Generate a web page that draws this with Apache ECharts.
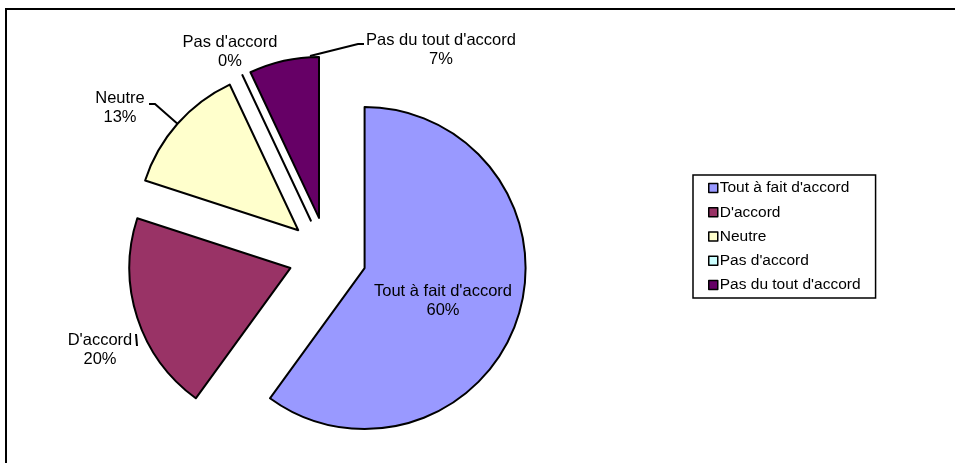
<!DOCTYPE html>
<html>
<head>
<meta charset="utf-8">
<script src="https://cdn.jsdelivr.net/npm/echarts@6/dist/echarts.min.js"></script>
<style>
  html, body { margin: 0; padding: 0; background: #fff; }
  #chart { width: 955px; height: 463px; }
</style>
</head>
<body>
<div id="chart"></div>
<script>
// answers and their share (%)
const categories = ["Tout à fait d'accord", "D'accord", 'Neutre', "Pas d'accord", "Pas du tout d'accord"]
const percents = [60, 20, 13, 0, 7]

const sliceColors = ['#9999FF', '#993366', '#FFFFCC', '#CCFFFF', '#660066']

// layout of the labels the way Excel placed them (centre of each text block)
const labelSpots = [[443, 301], [100, 350], [120, 108], [230, 52], [441, 50]]
// leader lines, null start = the slice's outer arc at mid angle
const leaders = [null, [[136, 334], [137, 346]], [null, [155, 104], [149, 104]], null, [[310, 56], [358, 44], [364, 44]]]

const font = "'Liberation Sans', Arial, sans-serif"
const pieCenter = [327.5, 256]
const pieRadius = 161
const explode = 39

const chart = echarts.init(document.getElementById('chart'), null, { renderer: 'canvas' })

chart.setOption({
    animation: false,
    color: sliceColors,
    graphic: [{
        type: 'rect',
        shape: { x: 6, y: 9, width: 1200, height: 1200 },
        style: { fill: 'none', stroke: '#000', lineWidth: 2 },
        silent: true,
    }],
    legend: {
        orient: 'vertical',
        left: 693,
        top: 175,
        padding: [5, 15, 5, 15],
        itemGap: 8.25,
        itemWidth: 9,
        itemHeight: 9,
        borderColor: '#000',
        borderWidth: 1.5,
        icon: 'rect',
        selectedMode: false,
        itemStyle: { borderColor: '#000', borderWidth: 1.5 },
        textStyle: { fontFamily: font, fontSize: 15.5, color: '#000', padding: [0, 0, 0, -3] },
        data: categories,
    },
    series: [{
        // the exploded slices
        type: 'pie',
        center: pieCenter,
        radius: pieRadius,
        startAngle: 90,
        clockwise: true,
        selectedMode: 'multiple',
        selectedOffset: explode,
        emphasis: { disabled: true },
        itemStyle: { borderColor: '#000', borderWidth: 2 },
        select: { itemStyle: { borderColor: '#000', borderWidth: 2 } },
        label: { show: false },
        labelLine: { show: false },
        data: categories.map((name, i) => ({ name: name, value: percents[i], selected: true })),
    }, {
        // same data, invisible, only carries the labels (radius reaches the exploded arcs)
        type: 'pie',
        center: pieCenter,
        radius: pieRadius + explode,
        startAngle: 90,
        clockwise: true,
        silent: true,
        legendHoverLink: false,
        emphasis: { disabled: true },
        itemStyle: { color: 'rgba(0,0,0,0)', borderWidth: 0 },
        label: {
            show: true,
            position: 'outside',
            formatter: '{b}\n{c}%',
            fontFamily: font,
            fontSize: 16.5,
            lineHeight: 19,
            color: '#000',
            align: 'center',
        },
        labelLine: {
            show: true,
            length: 10,
            length2: 5,
            lineStyle: { color: '#000', width: 2 },
        },
        labelLayout: function (p) {
            const s = labelSpots[p.dataIndex]
            const out = { x: s[0], y: s[1], align: 'center', verticalAlign: 'middle' }
            const l = leaders[p.dataIndex]
            if (l) {
                out.labelLinePoints = l.map(pt => pt || p.labelLinePoints[0])
            }
            return out
        },
        data: categories.map((name, i) => ({
            name: name,
            value: percents[i],
            labelLine: leaders[i] ? undefined : { show: false },
        })),
    }],
})
</script>
</body>
</html>
